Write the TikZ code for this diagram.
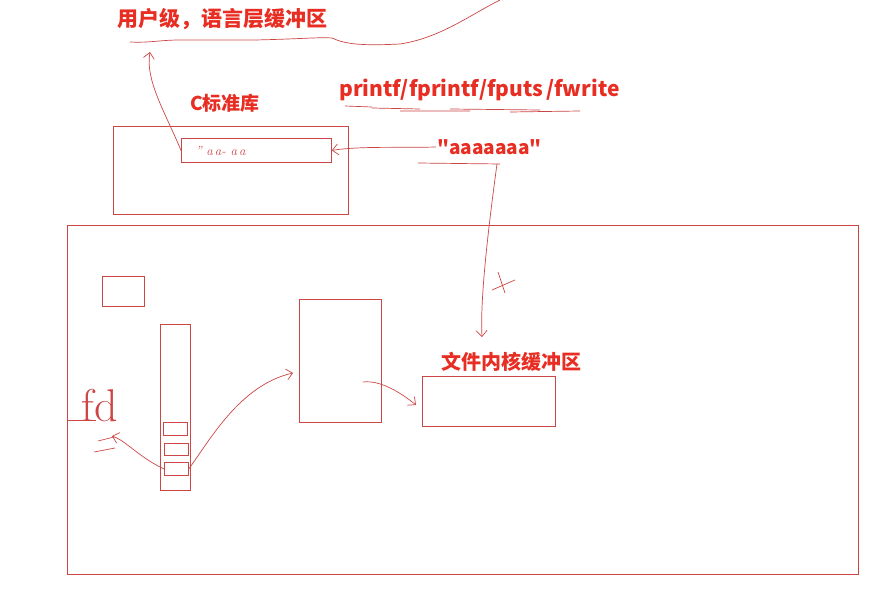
\documentclass[tikz,border=0pt]{standalone}
\usepackage{fontspec}
\newfontfamily\cjk{Noto Sans CJK SC}
\usetikzlibrary{positioning, arrows.meta, calc}

\definecolor{pen}{RGB}{205,70,70}
\definecolor{ink}{RGB}{232,45,35}

\begin{document}
\begin{tikzpicture}[
  x=1pt, y=-1pt,
  box/.style={draw=pen, line width=0.8pt, inner sep=0pt},
  lbl/.style={font=\cjk\bfseries\fontsize{20}{24}\selectfont, text=ink, inner sep=1pt},
  hand/.style={draw=pen, line width=0.7pt},
  arr/.style={hand, -{Straight Barb[length=6pt, width=11pt]}},
]
\useasboundingbox[fill=white] (0,0) rectangle (884,591);

% --- user-level buffer title and its wavy line
\node[lbl, font=\cjk\bfseries\fontsize{21}{24}\selectfont, anchor=west] (title) at (116,19) {用户级，语言层缓冲区};
\coordinate (ul) at (150,52);
\draw[hand] (130,42) .. controls (150,43) and (160,40) .. (180,40)
  -- (255,40) .. controls (300,39) and (320,37) .. (332,38)
  .. controls (345,44) and (360,46) .. (400,44)
  .. controls (440,38) and (470,15) .. (500,0);

% --- C library box with its buffer
\node[lbl, font=\cjk\bfseries\fontsize{19}{22}\selectfont, anchor=west] (clib) at (189,103) {C标准库};
\node[box, minimum width=235pt, minimum height=88pt, anchor=north west] (lib) at (113,126) {};
\node[box, minimum width=150pt, minimum height=24pt, anchor=north west] (inbuf) at (181,138) {};
\node[font=\fontsize{13}{14}\selectfont\itshape, text=pen, anchor=west] at (192,151) {" a\,a- a\,a};

% --- functions and the string
\node[lbl, font=\cjk\bfseries\fontsize{21}{24}\selectfont, anchor=west] (funcs) at (338,90) {printf/fprintf/fputs\,/fwrite};
\draw[hand] (345,106) -- (372,107) (372,108) -- (420,109) (400,111) -- (470,111)
  (450,109) -- (540,110) (510,112) -- (580,111);
\node[lbl, font=\cjk\bfseries\fontsize{19}{22}\selectfont, anchor=west] (str) at (436,147) {"aaaaaaa"};
\draw[hand] (418,163) -- (500,164);
\coordinate (strbot) at (497,164);
\coordinate (kdown) at (482,337);

% --- kernel: outer box and the things inside it
\node[box, minimum width=791pt, minimum height=349pt, anchor=north west] (kern) at (67,225) {};
\node[box, minimum width=42pt, minimum height=30pt, anchor=north west] (misc) at (102,276) {};
\node[box, minimum width=30pt, minimum height=166pt, anchor=north west] (fdarr) at (160,324) {};
\node[box, minimum width=24pt, minimum height=13pt, anchor=north west] (slot1) at (163,422) {};
\node[box, minimum width=24pt, minimum height=12pt, anchor=north west] (slot2) at (164,443) {};
\node[box, minimum width=24pt, minimum height=13pt, anchor=north west] (slot3) at (164,462) {};
\node[box, minimum width=82pt, minimum height=123pt, anchor=north west] (file) at (299,299) {};
\node[lbl, anchor=west] (klbl) at (440,362) {文件内核缓冲区};
\node[box, minimum width=133pt, minimum height=50pt, anchor=north west] (kbuf) at (422,376) {};

% --- fd scribble
\node[font=\fontsize{46}{48}\selectfont, text=pen] (fd) at (100,406) {fd};
\draw[hand] (68,420) -- (96,420);
\draw[hand] (98,441) -- (114,437) (94,452) -- (115,448);

% --- connectors
\draw[arr] (inbuf.west) .. controls (165,112) and (145,80) .. (ul);
\draw[arr] (str.west) .. controls (395,148) and (360,146) .. (inbuf.east);
\draw[arr] (strbot) .. controls (488,230) and (480,300) .. (kdown);
\draw[arr] (slot3.west) .. controls (140,458) and (125,440) .. (112,436);
\draw[arr] (slot3.east) .. controls (210,440) and (240,385) .. (293,373);
\coordinate (fin) at (363,382);
\draw[arr] (fin) .. controls (380,380) and (400,392) .. (416,405);

% --- the cross on the down arrow
\draw[hand] (498,272) -- (505,293) (492,290) -- (515,280);

\end{tikzpicture}
\end{document}
